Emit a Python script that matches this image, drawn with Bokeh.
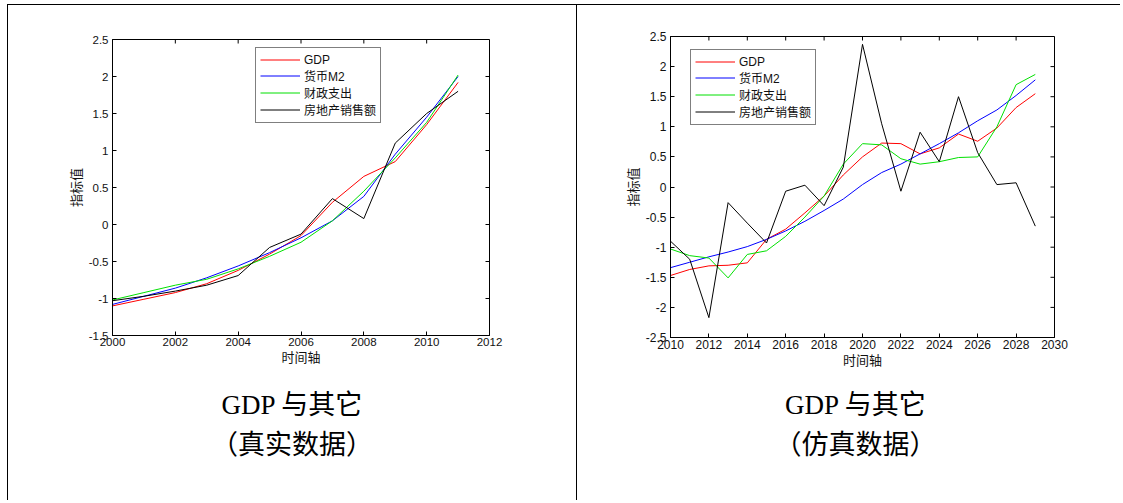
from math import pi
from bokeh.plotting import figure
from bokeh.models import FixedTicker, Range1d, Legend, LegendItem, Div
from bokeh.layouts import row, column
from bokeh.embed import file_html
from bokeh.resources import INLINE

# ---------------- data ----------------
series_names = ["GDP", "货币M2", "财政支出", "房地产销售额"]
series_colors = ["#ff0000", "#0000ff", "#00e000", "#000000"]

years_real = list(range(2000, 2012))
gdp_real = [-1.10, -1.01, -0.92, -0.80, -0.62, -0.40, -0.15, 0.30, 0.65, 0.85, 1.35, 1.92]
m2_real = [-1.08, -0.97, -0.86, -0.72, -0.56, -0.38, -0.18, 0.05, 0.38, 0.95, 1.45, 2.00]
fiscal_real = [-1.02, -0.92, -0.82, -0.74, -0.60, -0.43, -0.24, 0.05, 0.45, 0.90, 1.38, 2.02]
estate_real = [-1.03, -0.97, -0.90, -0.82, -0.69, -0.31, -0.13, 0.35, 0.08, 1.10, 1.50, 1.80]

years_sim = list(range(2010, 2030))
gdp_sim = [-1.47, -1.37, -1.31, -1.30, -1.26, -0.87, -0.70, -0.43, -0.15, 0.20,
           0.50, 0.73, 0.72, 0.55, 0.65, 0.88, 0.76, 0.98, 1.32, 1.55]
m2_sim = [-1.34, -1.25, -1.16, -1.08, -0.99, -0.87, -0.73, -0.57, -0.39, -0.20,
          0.04, 0.24, 0.38, 0.55, 0.72, 0.90, 1.10, 1.28, 1.52, 1.78]
fiscal_sim = [-1.03, -1.14, -1.18, -1.51, -1.12, -1.06, -0.82, -0.50, -0.15, 0.38,
              0.72, 0.70, 0.47, 0.38, 0.42, 0.49, 0.50, 1.00, 1.70, 1.87]
estate_sim = [-0.90, -1.20, -2.17, -0.26, -0.60, -0.93, -0.07, 0.03, -0.31, 0.33,
              2.37, 1.05, -0.07, 0.91, 0.42, 1.50, 0.57, 0.04, 0.07, -0.65]

xticks_real = [2000, 2002, 2004, 2006, 2008, 2010, 2012]
yticks_real = [-1.5, -1, -0.5, 0, 0.5, 1, 1.5, 2, 2.5]
xticks_sim = [2010, 2012, 2014, 2016, 2018, 2020, 2022, 2024, 2026, 2028, 2030]
yticks_sim = [-2.5, -2, -1.5, -1, -0.5, 0, 0.5, 1, 1.5, 2, 2.5]

x_label = "时间轴"
y_label = "指标值"
caption_real = ["GDP 与其它", "（真实数据）"]
caption_sim = ["GDP 与其它", "（仿真数据）"]

TICK_FONT = "Liberation Sans, Arial, sans-serif"
CJK_FONT = "Liberation Sans, Noto Sans CJK SC, sans-serif"
CAP_FONT = "'Liberation Serif', 'Noto Sans CJK SC', serif"


def fmt(t):
    return f"{t:g}"


def make_panel(years, values, xticks, yticks, fw, fh, mb_left, mb_top, mb_right, mb_bottom,
               legend_xy, label_px):
    p = figure(frame_width=fw, frame_height=fh, output_backend="svg", toolbar_location=None,
               x_range=Range1d(xticks[0], xticks[-1]), y_range=Range1d(yticks[0], yticks[-1]),
               min_border_left=mb_left, min_border_top=mb_top, min_border_right=mb_right,
               min_border_bottom=mb_bottom, background_fill_color="white",
               border_fill_color="white")
    p.outline_line_color = "black"
    p.outline_line_width = 1
    p.xgrid.visible = False
    p.ygrid.visible = False

    for ax, ticks in ((p.xaxis[0], xticks), (p.yaxis[0], yticks)):
        ax.ticker = FixedTicker(ticks=ticks)
        ax.major_label_overrides = {t: fmt(t) for t in ticks}
        ax.minor_tick_line_color = None
        ax.major_tick_in = 4
        ax.major_tick_out = 0
        ax.axis_line_color = "black"
        ax.major_tick_line_color = "black"
        ax.major_label_text_font = TICK_FONT
        ax.major_label_text_font_size = label_px
        ax.major_label_text_color = "#111111"
        ax.axis_label_text_font = CJK_FONT
        ax.axis_label_text_font_size = "13px"
        ax.axis_label_text_font_style = "normal"
        ax.axis_label_text_color = "#111111"
    p.xaxis[0].axis_label = x_label
    p.yaxis[0].axis_label = y_label
    p.xaxis[0].major_label_standoff = 2
    p.xaxis[0].axis_label_standoff = 1
    p.yaxis[0].major_label_standoff = 4
    p.yaxis[0].axis_label_standoff = 2

    # inward ticks on the top and right edges of the box (MATLAB style)
    p.ray(x=xticks, y=[yticks[-1]] * len(xticks), length=4, length_units="screen",
          angle=-pi / 2, line_color="black", line_width=1)
    p.ray(x=[xticks[-1]] * len(yticks), y=yticks, length=4, length_units="screen",
          angle=pi, line_color="black", line_width=1)

    items = []
    for name, color, ys in zip(series_names, series_colors, values):
        r = p.line(years, ys, line_color=color, line_width=1)
        items.append(LegendItem(label=name, renderers=[r]))
    leg = Legend(items=items, location=legend_xy, label_text_font=CJK_FONT,
                 label_text_font_size="12px", label_height=15, glyph_height=15,
                 glyph_width=40, label_standoff=4, padding=4, spacing=0, margin=0,
                 border_line_color="black", border_line_width=1, background_fill_alpha=1.0,
                 background_fill_color="white", label_text_color="#111111")
    p.add_layout(leg, "center")
    return p


def caption_div(lines, width, height, pad_left):
    html = ("<div style=\"box-sizing:border-box; width:%dpx; text-align:center; "
            "font-family:%s; font-size:27px; line-height:40px; color:#000; "
            "padding-top:10px; padding-left:%dpx; white-space:nowrap;\">%s</div>") % (
        width, CAP_FONT, pad_left, "<br>".join(lines))
    return Div(text=html, width=width, height=height, margin=0)


left = make_panel(years_real, [gdp_real, m2_real, fiscal_real, estate_real],
                  xticks_real, yticks_real, 377, 296, 104, 34, 87, 40,
                  (143, 212), "11.5px")
right = make_panel(years_sim, [gdp_sim, m2_sim, fiscal_sim, estate_sim],
                   xticks_sim, yticks_sim, 384, 301, 93, 31, 66, 38,
                   (20, 212), "12px")

cap_left = caption_div(caption_real, 568, 125, 0)
cap_right = caption_div(caption_sim, 543, 125, 14)

vline1 = Div(text="", width=1, height=495, margin=0, styles={"background-color": "black"})
vline2 = Div(text="", width=1, height=495, margin=0, styles={"background-color": "black"})
hline = Div(text="", width=1113, height=1, margin=0, styles={"background-color": "black"})

layout = column(hline,
                row(vline1, column(left, cap_left, spacing=0, margin=0),
                    vline2, column(right, cap_right, spacing=0, margin=0),
                    spacing=0, margin=0),
                spacing=0, margin=(4, 0, 0, 7))

open("out.html", "w").write(file_html(layout, INLINE))
